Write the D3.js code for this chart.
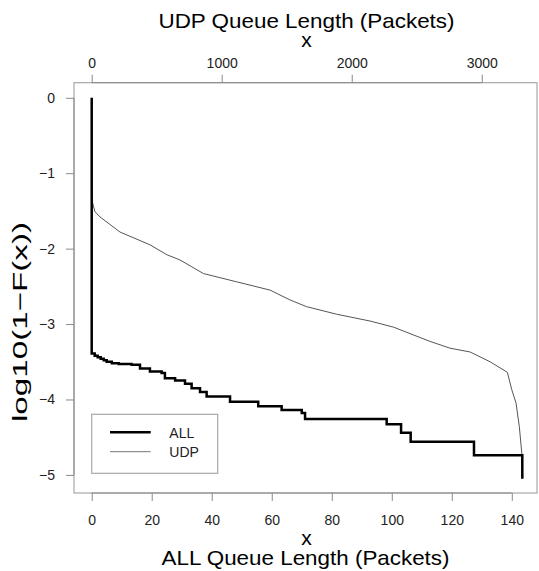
<!DOCTYPE html>
<html>
<head>
<meta charset="utf-8">
<script src="https://cdn.jsdelivr.net/npm/d3@7"></script>
<style>
  body { margin: 0; background: #fff; }
  text { font-family: "Liberation Sans", Arial, Helvetica, sans-serif; }
</style>
</head>
<body>
<svg id="chart" width="539" height="571"></svg>
<script>
// ALL queue: step function (x in packets, log10(1-F(x)))
const allX = [0, 0, 1, 2, 3, 4, 5, 6.7, 9, 13.3, 16.1, 19.4, 23.3, 24.4, 27.8, 31.1, 33.3, 36.1, 38.3, 46.1, 55.5, 63.3, 70, 71.1, 98.3, 103.1, 106.3, 127.4, 143.5];
const allY = [0, -3.39, -3.42, -3.44, -3.46, -3.48, -3.50, -3.52, -3.53, -3.54, -3.59, -3.63, -3.65, -3.72, -3.75, -3.79, -3.85, -3.90, -3.96, -4.03, -4.09, -4.14, -4.18, -4.26, -4.33, -4.44, -4.56, -4.74, -5.05];

// UDP queue: empirical curve
const udpX = [0, 0, 8, 25, 64, 218, 449, 577, 679, 859, 1115, 1372, 1525, 1654, 1885, 2141, 2320, 2602, 2756, 2910, 3064, 3197, 3231, 3264, 3289, 3308, 3315];
const udpY = [0, -1.27, -1.40, -1.51, -1.58, -1.78, -1.95, -2.08, -2.15, -2.33, -2.44, -2.55, -2.68, -2.77, -2.87, -2.96, -3.04, -3.23, -3.32, -3.37, -3.50, -3.64, -3.87, -4.05, -4.36, -4.71, -5.04];

const allTicks = [0, 20, 40, 60, 80, 100, 120, 140];
const udpTicks = [0, 1000, 2000, 3000];
const yTicks = [0, -1, -2, -3, -4, -5];

const box = {left: 74, top: 82.7, right: 537, bottom: 493};
const svg = d3.select("#chart");

const x = d3.scaleLinear().domain([-5.9, 148.4]).range([box.left, box.right]);
const xUdp = d3.scaleLinear().domain([-136, 3425]).range([box.left, box.right]);
const y = d3.scaleLinear().domain([0.2, -5.24]).range([box.top, box.bottom]);

const axisColor = "#8a8a8a";

function styleAxis(g, scale, ticks, horizontal) {
  g.select(".domain").remove();
  g.selectAll(".tick line").attr("stroke", axisColor);
  g.selectAll(".tick text").attr("fill", "#222").attr("font-size", 14);
  const a = scale(ticks[0]), b = scale(ticks[ticks.length - 1]);
  g.append("line")
    .attr("x1", horizontal ? a : 0).attr("x2", horizontal ? b : 0)
    .attr("y1", horizontal ? 0 : a).attr("y2", horizontal ? 0 : b)
    .attr("stroke", axisColor);
}

// plot box
svg.append("rect")
  .attr("x", box.left).attr("y", box.top)
  .attr("width", box.right - box.left).attr("height", box.bottom - box.top)
  .attr("fill", "none").attr("stroke", "#a8a8a8").attr("stroke-width", 1.2);

svg.append("g")
  .attr("transform", `translate(0,${box.bottom})`)
  .call(d3.axisBottom(x).tickValues(allTicks).tickSize(8).tickPadding(14).tickFormat(d3.format("d")))
  .call(g => styleAxis(g, x, allTicks, true));

svg.append("g")
  .attr("transform", `translate(0,${box.top})`)
  .call(d3.axisTop(xUdp).tickValues(udpTicks).tickSize(8).tickPadding(7).tickFormat(d3.format("d")))
  .call(g => styleAxis(g, xUdp, udpTicks, true));

svg.append("g")
  .attr("transform", `translate(${box.left},0)`)
  .call(d3.axisLeft(y).tickValues(yTicks).tickSize(8).tickPadding(11).tickFormat(d => d === 0 ? "0" : "\u2212" + Math.abs(d)))
  .call(g => styleAxis(g, y, yTicks, false));

// curves
const udpLine = d3.line().x(d => xUdp(d[0])).y(d => y(d[1]));
svg.append("path")
  .datum(d3.zip(udpX, udpY))
  .attr("d", udpLine)
  .attr("fill", "none").attr("stroke", "#555").attr("stroke-width", 1);

const allLine = d3.line().x(d => x(d[0])).y(d => y(d[1])).curve(d3.curveStepAfter);
svg.append("path")
  .datum(d3.zip(allX, allY))
  .attr("d", allLine)
  .attr("fill", "none").attr("stroke", "#000").attr("stroke-width", 2.5);

// axis titles (reference glyphs are wider than Liberation Sans, so stretch to width)
const cx = (box.left + box.right) / 2;
function title(txt, tx, ty, len, rot) {
  const t = svg.append("text")
    .attr("text-anchor", "middle").attr("font-size", 21)
    .attr("transform", `translate(${tx},${ty})` + (rot ? " rotate(-90)" : ""))
    .text(txt);
  if (len) t.attr("textLength", len).attr("lengthAdjust", "spacingAndGlyphs");
}
title("UDP Queue Length (Packets)", cx + 1, 28, 296);
title("x", cx + 1, 47);
title("x", cx + 1, 545);
title("ALL Queue Length (Packets)", cx, 565, 288);
title("log10(1\u2212F(x))", 27, 322, 200, true);

// legend
const legend = svg.append("g");
legend.append("rect")
  .attr("x", 91.7).attr("y", 414.3).attr("width", 126).attr("height", 59)
  .attr("fill", "#fff").attr("stroke", "#a8a8a8").attr("stroke-width", 1.2);
const items = [
  {name: "ALL", color: "#000", width: 2.5, y: 432.3},
  {name: "UDP", color: "#777", width: 1, y: 451.7}
];
items.forEach(it => {
  legend.append("line")
    .attr("x1", 110).attr("x2", 150.7).attr("y1", it.y).attr("y2", it.y)
    .attr("stroke", it.color).attr("stroke-width", it.width);
  legend.append("text")
    .attr("x", 169.3).attr("y", it.y + 5.2)
    .attr("font-size", 14).attr("fill", "#222")
    .text(it.name);
});
</script>
</body>
</html>
